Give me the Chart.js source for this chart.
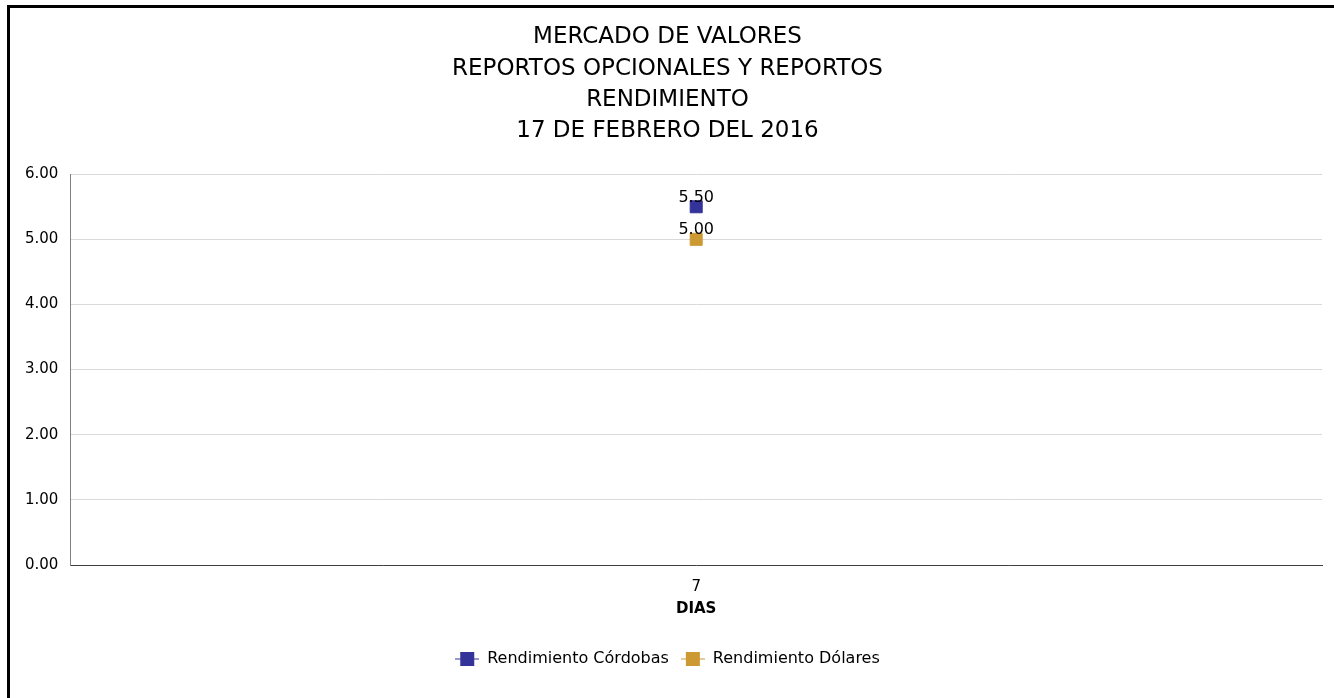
<!DOCTYPE html>
<html><head><meta charset="utf-8">
<script src="https://cdn.jsdelivr.net/npm/chart.js@4"></script>
<style>
html,body{margin:0;padding:0;background:#fff;overflow:hidden;}
#frame{position:absolute;left:7px;top:5px;width:2000px;height:2000px;border-top:3px solid #000;border-left:3px solid #000;}
#wrap{position:absolute;left:0;top:0;width:1334px;height:698px;}
</style></head><body>
<div id="frame"></div>
<div id="wrap"><canvas id="c" width="1334" height="698"></canvas></div>
<script>
const titleLines = ["MERCADO DE VALORES","REPORTOS OPCIONALES Y REPORTOS","RENDIMIENTO","17 DE FEBRERO DEL 2016"];
const categories = ["7"];
const seriesNames = ["Rendimiento Córdobas","Rendimiento Dólares"];
const cordobas = [5.50];
const dolares = [5.00];
const yTicks = [0,1,2,3,4,5,6];
const xTitle = "DIAS";
const seriesColors = ['#333399','#CC9933'];
const FONT = "'DejaVu Sans',sans-serif";

function legendIcon(color){
  const cv = document.createElement('canvas');
  cv.width = 24; cv.height = 14;
  const g = cv.getContext('2d');
  g.globalAlpha = 0.5;
  g.fillStyle = color;
  g.fillRect(0,6,24,2);
  g.globalAlpha = 1;
  g.fillRect(5,0,14,14);
  return cv;
}

const labelPlugin = {
  id:'pointLabels',
  afterDatasetsDraw(chart){
    const ctx = chart.ctx;
    ctx.save();
    ctx.font = "16px " + FONT;
    ctx.fillStyle = "#000";
    ctx.textAlign = "center";
    ctx.textBaseline = "alphabetic";
    chart.data.datasets.forEach((ds,i)=>{
      chart.getDatasetMeta(i).data.forEach((pt,j)=>{
        ctx.fillText(ds.data[j].toFixed(2), pt.x, pt.y - 5);
      });
    });
    ctx.restore();
  }
};

new Chart(document.getElementById('c'), {
  type:'line',
  data:{
    labels:categories,
    datasets:[
      {label:seriesNames[0],data:cordobas,borderColor:seriesColors[0],backgroundColor:seriesColors[0],pointStyle:'rect',pointRadius:8.5,pointHoverRadius:8.5,borderWidth:1},
      {label:seriesNames[1],data:dolares,borderColor:seriesColors[1],backgroundColor:seriesColors[1],pointStyle:'rect',pointRadius:8.5,pointHoverRadius:8.5,borderWidth:1}
    ]
  },
  options:{
    responsive:false,
    animation:false,
    layout:{padding:{left:13,right:12,top:14,bottom:21}},
    plugins:{
      title:{display:true,text:titleLines,color:'#000',font:{family:FONT,size:23,weight:'normal',lineHeight:1.35},padding:{top:8,bottom:28}},
      legend:{position:'bottom',labels:{usePointStyle:true,pointStyleWidth:24,boxHeight:14,color:'#000',font:{family:FONT,size:16},padding:12,
        generateLabels(chart){
          const items = Chart.defaults.plugins.legend.labels.generateLabels(chart);
          items.forEach((it,i)=>{ it.pointStyle = legendIcon(seriesColors[i]); });
          return items;
        }}},
      tooltip:{enabled:false}
    },
    scales:{
      x:{
        offset:true,
        grid:{display:false,drawTicks:false},
        border:{display:true,color:'#404040',width:1},
        ticks:{color:'#000',font:{family:FONT,size:15,lineHeight:1},padding:15},
        title:{display:true,text:xTitle,color:'#000',font:{family:FONT,size:15,weight:'bold',lineHeight:1},padding:{top:-8,bottom:22}}
      },
      y:{
        min:0,max:6,
        afterBuildTicks(ax){ax.ticks = yTicks.map(v=>({value:v}));},
        grid:{color:'#d9d9d9',drawTicks:false},
        border:{display:true,color:'#808080',width:1},
        ticks:{color:'#000',font:{family:FONT,size:15},padding:12,callback:v=>Number(v).toFixed(2)}
      }
    }
  },
  plugins:[labelPlugin]
});
</script>
</body></html>
